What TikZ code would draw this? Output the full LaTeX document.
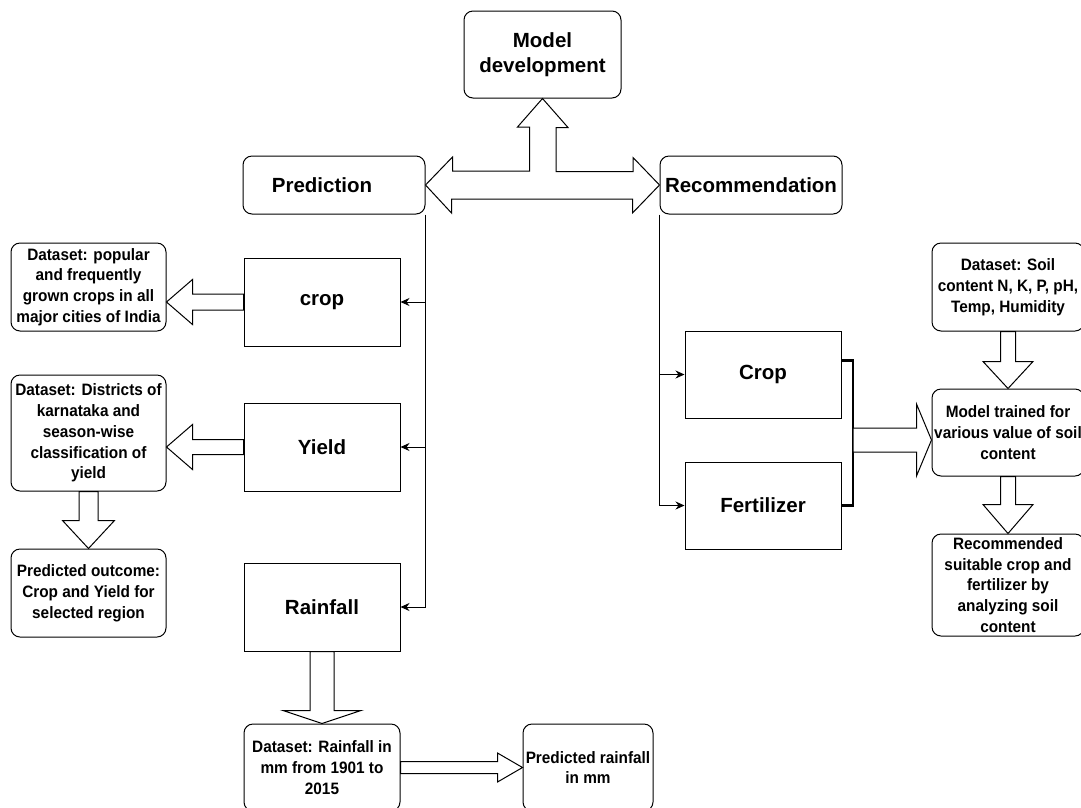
\documentclass[tikz,border=0pt]{standalone}
\usepackage{fontspec}
\setmainfont{Liberation Sans}
\newfontfamily\narrowsans[FakeStretch=0.93]{Liberation Sans}
\usetikzlibrary{arrows.meta,calc}

\tikzset{
  rbox/.style={draw, rounded corners=9pt, align=center, line width=1pt, inner sep=0.5pt},
  sbox/.style={draw, align=center, line width=1pt, inner sep=0.5pt},
  big/.style={font=\bfseries\fontsize{20.5}{24.5}\selectfont},
  small/.style={font=\narrowsans\bfseries\fontsize{16.5}{20.8}\selectfont},
  fatarrow/.style={draw, fill=white, line width=1pt, line join=miter},
  link/.style={-{Stealth[length=9pt,width=8pt]}, line width=1pt},
  bracketline/.style={line width=2.4pt}
}

% block arrow: from, tip, shaft half width, head half width, head length
\newcommand{\fatarrow}[5]{%
  \draw[fatarrow] ($(#1)!#3!90:(#2)$) -- ($(#2)!#5!(#1)!#3!90:(#2)$)
    -- ($(#2)!#5!(#1)!#4!90:(#2)$) -- (#2) -- ($(#2)!#5!(#1)!#4!-90:(#2)$)
    -- ($(#2)!#5!(#1)!#3!-90:(#2)$) -- ($(#1)!#3!-90:(#2)$) -- cycle;
}

\begin{document}
\begin{tikzpicture}[x=1pt,y=-1pt]
  \useasboundingbox (0,0) rectangle (1081,807);

  % top level
  \node[rbox,big,minimum width=157pt,minimum height=87pt] (md) at (542.5,54.5) {Model\\development};
  \node[rbox,big,minimum width=182pt,minimum height=58pt] (pred) at (334,185) {Prediction\hspace*{24pt}};
  \node[rbox,big,minimum width=182pt,minimum height=58pt] (rec) at (751,185) {Recommendation};

  % prediction side
  \node[sbox,big,minimum width=156pt,minimum height=88pt] (crop) at (322,302) {crop};
  \node[sbox,big,minimum width=156pt,minimum height=88pt] (yield) at (322,447) {Yield};
  \node[sbox,big,minimum width=156pt,minimum height=88pt] (rain) at (322,607) {Rainfall};
  \node[rbox,small,minimum width=155pt,minimum height=88pt] (dscrop) at (88.5,287)
    {Dataset: popular\\and frequently\\grown crops in all\\major cities of India};
  \node[rbox,small,minimum width=155pt,minimum height=116pt] (dsyield) at (88.5,433)
    {Dataset: Districts of\\karnataka and\\season-wise\\classification of\\yield};
  \node[rbox,small,minimum width=155pt,minimum height=88pt] (outcome) at (88.5,593)
    {Predicted outcome:\\Crop and Yield for\\selected region};
  \node[rbox,small,minimum width=156pt,minimum height=87pt] (dsrain) at (322,767.5)
    {Dataset: Rainfall in\\mm from 1901 to\\2015};
  \node[rbox,small,minimum width=130pt,minimum height=87pt] (prain) at (588,767.5)
    {Predicted rainfall\\in mm};

  % recommendation side
  \node[sbox,big,minimum width=156pt,minimum height=87pt] (rcrop) at (763,374.5) {Crop};
  \node[sbox,big,minimum width=156pt,minimum height=87pt] (fert) at (763,505.5) {Fertilizer};
  \node[rbox,small,minimum width=152pt,minimum height=88pt] (soil) at (1008,287)
    {Dataset: Soil\\content N, K, P, pH,\\Temp, Humidity};
  \node[rbox,small,minimum width=152pt,minimum height=87pt] (mtrain) at (1008,432.5)
    {Model trained for\\various value of soil\\content};
  \node[rbox,small,minimum width=152pt,minimum height=102pt] (recsuit) at (1008,585)
    {Recommended\\suitable crop and\\fertilizer by\\analyzing soil\\content};

  % T shaped arrow
  \draw[fatarrow] (pred.east) -- ++(27,-28) -- ++(0,14) -- ++(77,0) -- ++(0,-44)
    -- ++(-12,0) -- (md.south) -- ++(25.5,29) -- ++(-12,0) -- ++(0,44) -- ++(77,0)
    -- ++(0,-14) -- (rec.west) -- ++(-27,28) -- ++(0,-14) -- ++(-181,0) -- ++(0,14) -- cycle;

  % thin links
  \draw[link] (pred.south east) |- (rain.east);
  \draw[link] (pred.south east |- crop.east) -- (crop.east);
  \draw[link] (pred.south east |- yield.east) -- (yield.east);
  \draw[link] (rec.south west) |- (fert.west);
  \draw[link] (rec.south west |- rcrop.west) -- (rcrop.west);

  % bracket joining Crop and Fertilizer
  \coordinate (bjoin) at (853,440);
  \coordinate (btip) at (mtrain.west |- bjoin);
  \draw[bracketline] ([yshift=14pt]rcrop.east) -| (bjoin) |- (fert.east);

  % block arrows
  \coordinate (croptip) at (dscrop.east |- crop.west);
  \coordinate (yieldtip) at (dsyield.east |- yield.west);
  \fatarrow{crop.west}{croptip}{8pt}{22.5pt}{26pt}
  \fatarrow{yield.west}{yieldtip}{7.5pt}{22.5pt}{26pt}
  \fatarrow{dsyield.south}{outcome.north}{9.5pt}{26pt}{28pt}
  \fatarrow{rain.south}{dsrain.north}{12pt}{39pt}{13pt}
  \fatarrow{dsrain.east}{prain.west}{6pt}{14.5pt}{25pt}
  \fatarrow{bjoin}{btip}{12pt}{36pt}{15pt}
  \fatarrow{soil.south}{mtrain.north}{7.5pt}{25pt}{27pt}
  \fatarrow{mtrain.south}{recsuit.north}{7.5pt}{25pt}{29pt}
\end{tikzpicture}
\end{document}
